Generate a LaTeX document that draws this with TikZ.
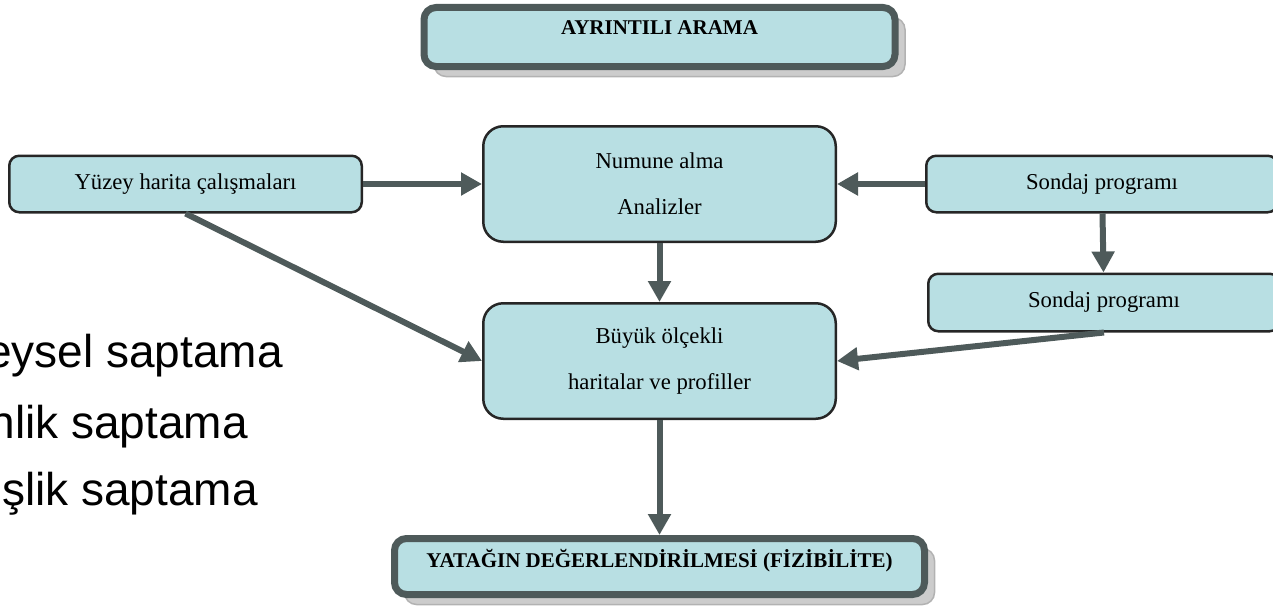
\documentclass[tikz,border=0pt]{standalone}
\usepackage{fontspec}
\setmainfont{Liberation Serif}
\newfontfamily\arialfont{Liberation Sans}
\usepackage{tikz}
\usetikzlibrary{positioning,arrows.meta,shadows}

\definecolor{boxfill}{RGB}{184,223,227}
\definecolor{darkrim}{RGB}{78,90,90}

\begin{document}
\begin{tikzpicture}[x=1pt, y=-1pt,
  stage/.style={draw=black!85, line width=2.5pt, fill=boxfill, rounded corners=20pt,
    minimum width=352.5pt, minimum height=115.5pt, align=center,
    font=\fontsize{22.7}{46}\selectfont},
  source/.style={stage, rounded corners=10pt, minimum height=56.5pt},
  title/.style={draw=darkrim, line width=7pt, fill=boxfill, rounded corners=12pt,
    font=\fontsize{21}{24}\selectfont\bfseries, text height=14pt,
    drop shadow={shadow xshift=10pt, shadow yshift=-10pt, fill=gray!40, draw=gray!60, line width=1.5pt, opacity=1}},
  flow/.style={draw=darkrim, line width=6pt, -{Triangle[length=21pt, width=22pt]}},
  side/.style={anchor=base east, inner sep=0pt, font=\arialfont\fontsize{46}{50}\selectfont},
]
\useasboundingbox (0,0) rectangle (1273,610);

\node[stage] (numune) at (659.5,184) {Numune alma\\Analizler};
\node[stage, below=59pt of numune] (buyuk) {Büyük ölçekli\\haritalar ve profiller};
\node[source, left=119pt of numune] (yuzey) {Yüzey harita çalışmaları};
\node[source, right=88pt of numune, minimum width=351.5pt] (sondajA) {Sondaj programı};
\node[source, below=59pt of sondajA, xshift=2pt, minimum width=351.5pt, minimum height=57.5pt] (sondajB) {Sondaj programı};

\node[title, above=55pt of numune, minimum width=471pt, minimum height=59pt, text depth=18pt] (arama) {AYRINTILI ARAMA};
\node[title, below=115pt of buyuk, minimum width=530pt, minimum height=56pt, text depth=13pt] (yatak) {YATAĞIN DEĞERLENDİRİLMESİ (FİZİBİLİTE)};

% partly hidden list on the left
\node[side] (sapt1) at (283,367) {eysel saptama};
\node[side] (sapt2) at (248,438) {nlik saptama};
\node[side] (sapt3) at (258,505) {şlik saptama};

\draw[flow] (yuzey) -- (numune);
\draw[flow] (sondajA) -- (numune);
\draw[flow] (numune) -- (buyuk);
\draw[flow] (sondajA) -- (sondajB);
\draw[flow] (yuzey.south) -- (buyuk.west);
\draw[flow] (sondajB.south) -- (buyuk.east);
\draw[flow] (buyuk) -- (yatak);
\end{tikzpicture}
\end{document}
